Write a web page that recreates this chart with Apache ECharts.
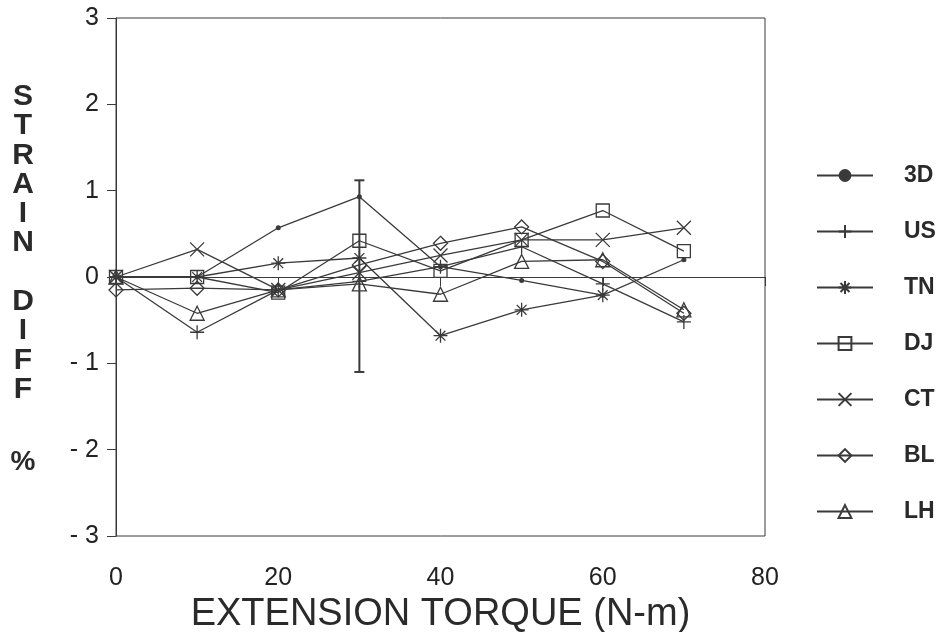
<!DOCTYPE html>
<html>
<head>
<meta charset="utf-8">
<script src="https://cdn.jsdelivr.net/npm/echarts@6/dist/echarts.min.js"></script>
<style>
  html, body { margin: 0; padding: 0; background: #fff; }
  #chart { width: 944px; height: 632px; }
</style>
</head>
<body>
<div id="chart"></div>
<script>
var torque = [0, 10, 20, 30, 40, 50, 60, 70];
var names = ['3D', 'US', 'TN', 'DJ', 'CT', 'BL', 'LH'];
var s3D = [0, 0, 0.57, 0.93, 0.12, -0.04, -0.21, 0.20];
var sUS = [0, -0.64, -0.15, -0.05, 0.12, 0.35, -0.08, -0.52];
var sTN = [0, 0, 0.16, 0.22, -0.68, -0.38, -0.21, null];
var sDJ = [0, 0, -0.18, 0.42, 0.07, 0.43, 0.77, 0.30];
var sCT = [0, 0.32, -0.15, 0.05, 0.25, 0.43, 0.43, 0.57];
var sBL = [-0.15, -0.13, -0.15, 0.14, 0.39, 0.58, 0.18, -0.42];
var sLH = [0, -0.42, -0.15, -0.08, -0.20, 0.18, 0.20, -0.38];
// error bar on the 3D point at 30 N-m
var errBar = [[30, -1.10, 1.12]];

var ink = '#3a3a3a';
var font = 'Liberation Sans';

var symbols = {
    '3D': 'circle',
    'US': 'path://M5,0L5,10M0,5L10,5',
    'TN': 'path://M5,0L5,10M0,5L10,5M1.5,1.5L8.5,8.5M8.5,1.5L1.5,8.5',
    'DJ': 'rect',
    'CT': 'path://M0,0L10,10M10,0L0,10',
    'BL': 'diamond',
    'LH': 'triangle'
};
var sizes = { '3D': 5, 'US': 14, 'TN': 14, 'DJ': 13, 'CT': 14, 'BL': 14, 'LH': 14 };

var toPairs = function (vals) {
    var res = [];
    for (var i = 0; i < torque.length; i++) {
        if (vals[i] !== null) res.push([torque[i], vals[i]]);
    }
    return res;
};

var values = [s3D, sUS, sTN, sDJ, sCT, sBL, sLH];
var series = [];
for (var k = 0; k < names.length; k++) {
    var n = names[k];
    series.push({
        name: n,
        type: 'line',
        data: toPairs(values[k]),
        symbol: symbols[n],
        symbolSize: sizes[n],
        showSymbol: true,
        lineStyle: { color: ink, width: 1.3 },
        itemStyle: {
            color: n === '3D' ? ink : 'rgba(255,255,255,0)',
            borderColor: ink,
            borderWidth: n === '3D' ? 0 : 1.3
        },
        z: 3
    });
}
// zero reference line
series[0].markLine = {
    silent: true,
    symbol: ['none', 'none'],
    label: { show: false },
    lineStyle: { color: ink, width: 1, type: 'solid' },
    data: [{ yAxis: 0 }]
};
series.push({
    name: 'err',
    type: 'custom',
    data: errBar,
    renderItem: function (params, api) {
        var x = api.value(0);
        var lo = api.coord([x, api.value(1)]);
        var hi = api.coord([x, api.value(2)]);
        var c = 5;
        var st = { stroke: ink, lineWidth: 2 };
        return {
            type: 'group',
            children: [
                { type: 'line', shape: { x1: lo[0], y1: lo[1], x2: hi[0], y2: hi[1] }, style: st },
                { type: 'line', shape: { x1: lo[0] - c, y1: lo[1], x2: lo[0] + c, y2: lo[1] }, style: st },
                { type: 'line', shape: { x1: hi[0] - c, y1: hi[1], x2: hi[0] + c, y2: hi[1] }, style: st }
            ]
        };
    },
    z: 4
});

var chart = echarts.init(document.getElementById('chart'), null, { renderer: 'canvas' });
chart.setOption({
    animation: false,
    backgroundColor: '#fff',
    grid: {
        left: 116, right: 179, top: 18, bottom: 96,
        outerBoundsMode: 'none',
        containLabel: false,
        show: true, borderColor: ink, borderWidth: 1
    },
    xAxis: {
        type: 'value',
        min: 0, max: 80, interval: 20,
        name: 'EXTENSION TORQUE (N-m)',
        nameLocation: 'middle',
        nameGap: 58,
        nameTextStyle: { fontFamily: font, fontSize: 38, color: '#2a2a2a' },
        axisLine: { lineStyle: { color: ink, width: 1 } },
        axisTick: { show: true, length: 9, lineStyle: { color: ink } },
        axisLabel: { fontFamily: font, fontSize: 25, color: '#222', margin: 30 },
        splitLine: { show: false }
    },
    yAxis: {
        type: 'value',
        min: -3, max: 3, interval: 1,
        axisLine: { show: true, lineStyle: { color: ink, width: 1 } },
        axisTick: { show: true, length: 9, lineStyle: { color: ink } },
        axisLabel: {
            fontFamily: font, fontSize: 25, color: '#222', margin: 17,
            formatter: function (v) { return v < 0 ? '- ' + (-v) : String(v); }
        },
        splitLine: { show: false }
    },
    legend: {
        data: names,
        orient: 'vertical',
        left: 811,
        top: 159,
        itemWidth: 56,
        itemHeight: 16,
        itemGap: 33,
        textStyle: { fontFamily: font, fontSize: 23, fontWeight: 'bold', color: '#2a2a2a', padding: [0, 0, 0, 26] }
    },
    graphic: [
        {
            type: 'text', x: 23, y: 82,
            style: {
                text: 'S\nT\nR\nA\nI\nN\n\nD\nI\nF\nF',
                font: 'bold 30px "Liberation Sans"',
                fill: '#2a2a2a',
                align: 'center',
                verticalAlign: 'top',
                lineHeight: 29.3
            }
        },
        {
            type: 'text', x: 23, y: 448,
            style: {
                text: '%',
                font: 'bold 28px "Liberation Sans"',
                fill: '#2a2a2a',
                align: 'center',
                verticalAlign: 'top'
            }
        }
    ],
    series: series
});
</script>
</body>
</html>
